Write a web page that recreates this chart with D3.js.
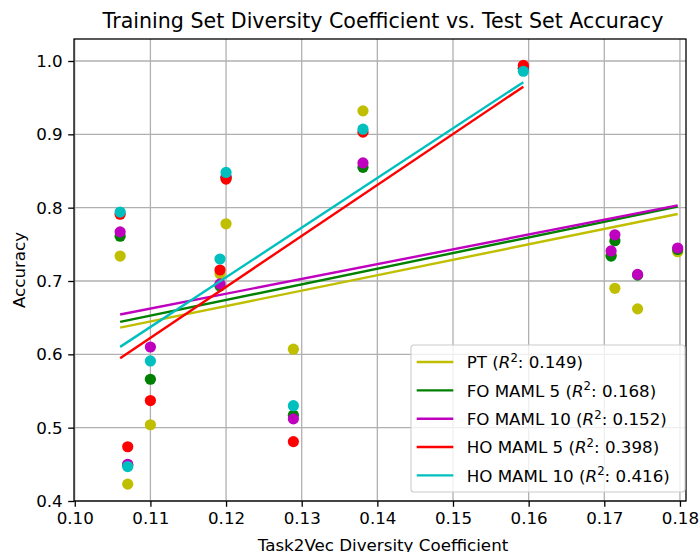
<!DOCTYPE html>
<html><head><meta charset="utf-8">
<script src="https://cdn.jsdelivr.net/npm/d3@7"></script>
<style>body{margin:0;background:#fff}svg{display:block;font-family:"DejaVu Sans",sans-serif}</style>
</head><body>
<svg id="c" width="699" height="552"></svg>
<script>
const xTicks = [0.10,0.11,0.12,0.13,0.14,0.15,0.16,0.17,0.18];
const yTicks = [0.4,0.5,0.6,0.7,0.8,0.9,1.0];
const xAll = [0.1060,0.1070,0.1100,0.1192,0.1200,0.1289,0.1381,0.1593,0.1709,0.1714,0.1744,0.1797];
const xHO  = [0.1060,0.1070,0.1100,0.1192,0.1200,0.1289,0.1381,0.1593];
const seriesNames = ["PT","FO MAML 5","FO MAML 10","HO MAML 5","HO MAML 10"];
const r2Labels = ["0.149","0.168","0.152","0.398","0.416"];
const seriesColors = ["#bfbf00","#008000","#bf00bf","#ff0000","#00bfbf"];
const ptAcc    = [0.734,0.423,0.504,0.710,0.778,0.607,0.932,0.990,0.735,0.690,0.662,0.740];
const fo5Acc   = [0.761,0.449,0.566,0.693,0.841,0.517,0.855,0.990,0.734,0.755,0.708,0.743];
const fo10Acc  = [0.767,0.450,0.610,0.696,0.842,0.512,0.861,0.990,0.741,0.763,0.709,0.745];
const ho5Acc   = [0.791,0.474,0.537,0.715,0.839,0.481,0.903,0.994];
const ho10Acc  = [0.794,0.447,0.591,0.730,0.848,0.530,0.907,0.986];

const series = [
  {x:xAll,y:ptAcc},{x:xAll,y:fo5Acc},{x:xAll,y:fo10Acc},{x:xHO,y:ho5Acc},{x:xHO,y:ho10Acc}
].map((s,i)=>({...s,name:seriesNames[i],r2:r2Labels[i],color:seriesColors[i]}));

const svg = d3.select("#c");
const L=74, R=686, T=39, B=501;
const FS=16.7;
const x = d3.scaleLinear().domain([0.0999,0.1808]).range([L,R]);
const y = d3.scaleLinear().domain([0.4,1.03]).range([B,T]);

// grid
const g = svg.append("g");
g.selectAll(".gx").data(xTicks).join("line")
  .attr("x1",d=>x(d)).attr("x2",d=>x(d)).attr("y1",T).attr("y2",B)
  .attr("stroke","#b0b0b0").attr("stroke-width",1.3);
g.selectAll(".gy").data(yTicks).join("line")
  .attr("y1",d=>y(d)).attr("y2",d=>y(d)).attr("x1",L).attr("x2",R)
  .attr("stroke","#b0b0b0").attr("stroke-width",1.3);

// points
series.forEach(s=>{
  svg.append("g").selectAll("circle").data(s.x.map((xv,i)=>[xv,s.y[i]])).join("circle")
    .attr("cx",d=>x(d[0])).attr("cy",d=>y(d[1])).attr("r",5.6).attr("fill",s.color);
});

// regression lines
function fit(xs,ys){
  const mx=d3.mean(xs), my=d3.mean(ys);
  let sxy=0,sxx=0; xs.forEach((v,i)=>{sxy+=(v-mx)*(ys[i]-my); sxx+=(v-mx)*(v-mx);});
  const b=sxy/sxx; return v=>my+b*(v-mx);
}
series.forEach(s=>{
  const f=fit(s.x,s.y); const ext=d3.extent(s.x);
  svg.append("line").attr("x1",x(ext[0])).attr("x2",x(ext[1]))
    .attr("y1",y(f(ext[0]))).attr("y2",y(f(ext[1])))
    .attr("stroke",s.color).attr("stroke-width",2.4);
});

// axes
const xa = svg.append("g").attr("transform",`translate(0,${B})`)
  .call(d3.axisBottom(x).tickValues(xTicks).tickFormat(d3.format(".2f")).tickSize(5.8).tickPadding(5.5));
const ya = svg.append("g").attr("transform",`translate(${L},0)`)
  .call(d3.axisLeft(y).tickValues(yTicks).tickFormat(d3.format(".1f")).tickSize(5.8).tickPadding(5.5));
[xa,ya].forEach(a=>{a.select(".domain").remove();
  a.selectAll("text").attr("font-family","DejaVu Sans").attr("font-size",FS).attr("fill","#000");
  a.selectAll("line").attr("stroke","#000").attr("stroke-width",1.3);});
svg.append("rect").attr("x",L).attr("y",T).attr("width",R-L).attr("height",B-T)
  .attr("fill","none").attr("stroke","#000").attr("stroke-width",1.3);

// titles
svg.append("text").attr("x",(L+R)/2+3).attr("y",28).attr("text-anchor","middle")
  .attr("font-size",20.6).text("Training Set Diversity Coefficient vs. Test Set Accuracy");
svg.append("text").attr("x",(L+R)/2+3).attr("y",551).attr("text-anchor","middle")
  .attr("font-size",FS).text("Task2Vec Diversity Coefficient");
svg.append("text").attr("transform",`translate(25,${(T+B)/2}) rotate(-90)`).attr("text-anchor","middle")
  .attr("font-size",FS).text("Accuracy");

// legend
const lg = svg.append("g").attr("transform","translate(411,345)");
lg.append("rect").attr("width",274).attr("height",147).attr("rx",3)
  .attr("fill","#fff").attr("fill-opacity",0.8).attr("stroke","#cccccc").attr("stroke-width",1.1);
series.forEach((s,i)=>{
  const yy=17+i*28.35;
  lg.append("line").attr("x1",5.7).attr("x2",42.3).attr("y1",yy).attr("y2",yy)
    .attr("stroke",s.color).attr("stroke-width",2.4);
  const t=lg.append("text").attr("x",55.7).attr("y",yy+6.3).attr("font-size",FS);
  t.append("tspan").text(s.name+" (");
  t.append("tspan").attr("font-style","italic").text("R");
  t.append("tspan").attr("font-size",11.7).attr("dy",-6.5).text("2");
  t.append("tspan").attr("dy",6.5).text(": "+s.r2+")");
});
</script>
</body></html>
